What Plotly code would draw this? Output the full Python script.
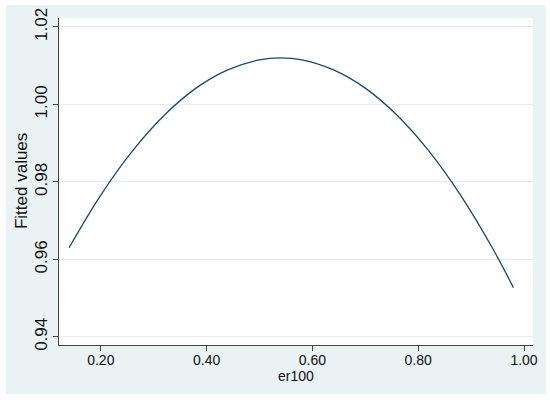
import plotly.graph_objects as go

# fitted values
er100 = [0.14, 0.20, 0.26, 0.32, 0.38, 0.44, 0.50, 0.54, 0.58, 0.64, 0.70, 0.76, 0.82, 0.88, 0.94, 0.98]
fitted = [0.963, 0.9766, 0.988, 0.9972, 1.0042, 1.0089, 1.0115, 1.012, 1.0115, 1.0089, 1.0042, 0.9972, 0.988, 0.9766, 0.963, 0.9527]

x_ticks = [0.2, 0.4, 0.6, 0.8, 1.0]
x_labels = ["0.20", "0.40", "0.60", "0.80", "1.00"]
y_ticks = [0.94, 0.96, 0.98, 1.00, 1.02]
y_labels = ["0.94", "0.96", "0.98", "1.00", "1.02"]

FONT = "Liberation Sans, Arial, sans-serif"
x_font = dict(family=FONT, size=14, color="#111")
# the y side text looks taller in the source image (vertically stretched)
y_font = dict(family=FONT, size=17, color="#111")

fig = go.Figure()
fig.add_trace(go.Scatter(
    x=er100, y=fitted, mode="lines",
    line=dict(color="#1a476f", width=1.3, shape="spline"),
    showlegend=False,
))

# light outer frame like Stata's s2color scheme, white plot region on top
fig.add_shape(
    type="rect", xref="paper", yref="paper",
    x0=-0.112, x1=1.027, y0=-0.15, y1=1.04,
    fillcolor="#eaf2f3", line_width=0, layer="below",
)
fig.add_shape(
    type="rect", xref="paper", yref="paper",
    x0=0, x1=1, y0=0, y1=1,
    fillcolor="white", line_width=0, layer="below",
)

# axis titles placed as annotations to sit where Stata puts them
fig.add_annotation(
    text="er100", xref="paper", yref="paper", x=0.5, y=-0.095,
    xanchor="center", yanchor="middle", showarrow=False, font=x_font,
)
fig.add_annotation(
    text="Fitted values", xref="paper", yref="paper", x=-0.079, y=0.5,
    xanchor="center", yanchor="middle", textangle=-90, showarrow=False,
    font=y_font,
)

fig.update_layout(
    width=550, height=400,
    margin=dict(l=59, r=17, t=18, b=55),
    paper_bgcolor="white",
    plot_bgcolor="white",
    font=x_font,
)

fig.update_xaxes(
    range=[0.121, 1.017], automargin=False,
    tickvals=x_ticks, ticktext=x_labels, tickfont=x_font,
    ticks="outside", ticklen=5, tickcolor="#444", ticklabelstandoff=-3,
    showline=True, linecolor="#444", linewidth=1,
    showgrid=False, zeroline=False,
)
fig.update_yaxes(
    range=[0.9379, 1.0223], automargin=False,
    tickvals=y_ticks, ticktext=y_labels, tickangle=-90, tickfont=y_font,
    ticks="outside", ticklen=5, tickcolor="#444", ticklabelstandoff=-1,
    showline=True, linecolor="#444", linewidth=1,
    showgrid=True, gridcolor="#e3ecee", gridwidth=1,
    zeroline=False,
)

fig.write_html("out.html", config={"displayModeBar": False},
               post_script="document.body.style.margin='0';")
